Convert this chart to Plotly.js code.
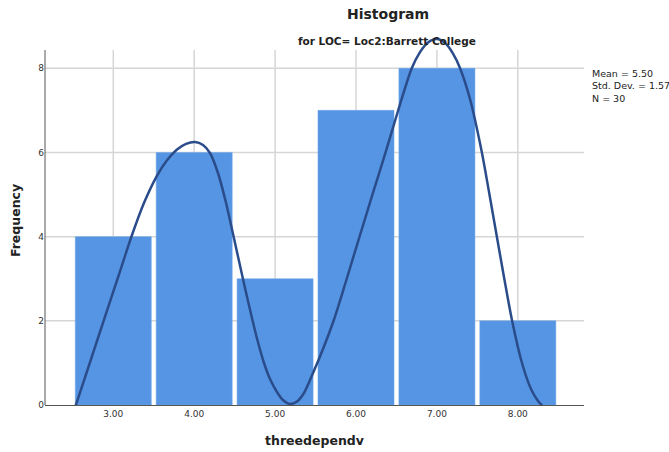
<!DOCTYPE html>
<html>
<head>
<meta charset="utf-8">
<script src="https://cdn.plot.ly/plotly-3.0.1.min.js"></script>
<style>html,body{margin:0;padding:0;background:#fff;}#chart{width:669px;height:452px;}</style>
</head>
<body>
<div id="chart"></div>
<script>
// Histogram bins and frequencies
const bins = [3, 4, 5, 6, 7, 8];
const freq = [4, 6, 3, 7, 8, 2];
const tickLabels = ['3.00', '4.00', '5.00', '6.00', '7.00', '8.00'];
const yTicks = [0, 2, 4, 6, 8];

// Smoothed curve
const curveX = [2.527, 2.712, 2.897, 3.058, 3.227, 3.379, 3.536, 3.664, 3.784, 3.899, 4.010,
                4.109, 4.195, 4.294, 4.394, 4.480, 4.603, 4.714, 4.788, 4.863, 4.937, 5.023, 5.097, 5.184,
                5.271, 5.357, 5.469, 5.592, 5.726, 5.877, 6.046, 6.198, 6.368, 6.519, 6.689, 6.791, 6.890, 6.998,
                7.099, 7.199, 7.285, 7.409, 7.554, 7.644, 7.739, 7.829, 7.925, 8.048, 8.163, 8.250, 8.315];
const curveY = [-0.064, 1.014, 2.093, 3.029, 4.015, 4.799, 5.434, 5.814, 6.063, 6.203, 6.249,
                6.177, 5.987, 5.512, 4.799, 4.063, 2.994, 2.067, 1.497, 0.998, 0.618, 0.309, 0.119, 0.024,
                0.083, 0.285, 0.760, 1.330, 2.019, 2.946, 4.015, 4.966, 6.018, 6.985, 8.000, 8.384, 8.613, 8.696,
                8.605, 8.349, 8.007, 7.270, 6.018, 5.061, 4.022, 3.041, 2.043, 1.022, 0.380, 0.095, -0.040];

// Statistics box
const stats = ['Mean = 5.50', 'Std. Dev. = 1.57', 'N = 30'];
const titleText = 'Histogram';
const subtitleText = 'for LOC= Loc2:Barrett College';
const xTitle = 'threedependv';
const yTitle = 'Frequency';

const axisTop = 8.434;   // where the drawn axis/gridlines stop
const FONT = 'DejaVu Sans, sans-serif';

const shapes = [];
bins.forEach(b => shapes.push({
  type: 'line', xref: 'x', yref: 'y', x0: b, x1: b, y0: 0, y1: axisTop,
  line: {color: '#d6d6d6', width: 1.5}, layer: 'below'
}));
yTicks.slice(1).forEach(t => shapes.push({
  type: 'line', xref: 'paper', yref: 'y', x0: 0, x1: 1, y0: t, y1: t,
  line: {color: '#d6d6d6', width: 1.5}, layer: 'below'
}));
shapes.push({
  type: 'line', xref: 'paper', yref: 'y', x0: 0, x1: 0, y0: 0, y1: axisTop,
  line: {color: '#555', width: 1}
});

const data = [
  {
    type: 'bar', x: bins, y: freq,
    marker: {color: '#5595e3', line: {color: '#6ea5e8', width: 0.5}},
    hoverinfo: 'skip'
  },
  {
    type: 'scatter', mode: 'lines', x: curveX, y: curveY,
    line: {color: '#2b4c8a', width: 2.5, shape: 'spline', smoothing: 0.8},
    hoverinfo: 'skip'
  }
];

const layout = {
  width: 669, height: 452,
  margin: {l: 45, r: 85, t: 36, b: 47},
  paper_bgcolor: '#fff', plot_bgcolor: 'rgba(0,0,0,0)',
  showlegend: false,
  bargap: 0.06,
  font: {family: FONT, color: '#333'},
  xaxis: {
    range: [2.156, 8.818], tickvals: bins, ticktext: tickLabels,
    showgrid: false, zeroline: false, showline: true, linecolor: '#555', linewidth: 1,
    ticks: '', tickfont: {size: 9, color: '#333', family: FONT},
    title: {text: xTitle, font: {size: 12.5, color: '#222', family: FONT, weight: 'bold'}, standoff: 18}
  },
  yaxis: {
    range: [0, 8.767], tickvals: yTicks, ticktext: yTicks.map(String),
    showgrid: false, zeroline: false, showline: false,
    ticks: '', tickfont: {size: 9, color: '#333', family: FONT},
    title: {text: yTitle, font: {size: 12.5, color: '#222', family: FONT, weight: 'bold'}, standoff: 14}
  },
  shapes: shapes,
  annotations: [
    {text: '<b>' + titleText + '</b>', xref: 'paper', yref: 'paper', x: 0.636, y: 1, yshift: 12,
     showarrow: false, font: {size: 14, color: '#222', family: FONT}, yanchor: 'bottom'},
    {text: '<b>' + subtitleText + '</b>', xref: 'paper', yref: 'paper', x: 0.634, y: 1, yshift: 3,
     showarrow: false, font: {size: 10.5, color: '#222', family: FONT}, yanchor: 'top'},
    {text: stats.join('<br>'), xref: 'paper', yref: 'paper', x: 1, xshift: 6, xanchor: 'left',
     y: 1, yshift: -30, yanchor: 'top', align: 'left', showarrow: false,
     font: {size: 9.5, color: '#222', family: FONT}}
  ]
};

Plotly.newPlot('chart', data, layout, {displayModeBar: false, staticPlot: true});
</script>
</body>
</html>
